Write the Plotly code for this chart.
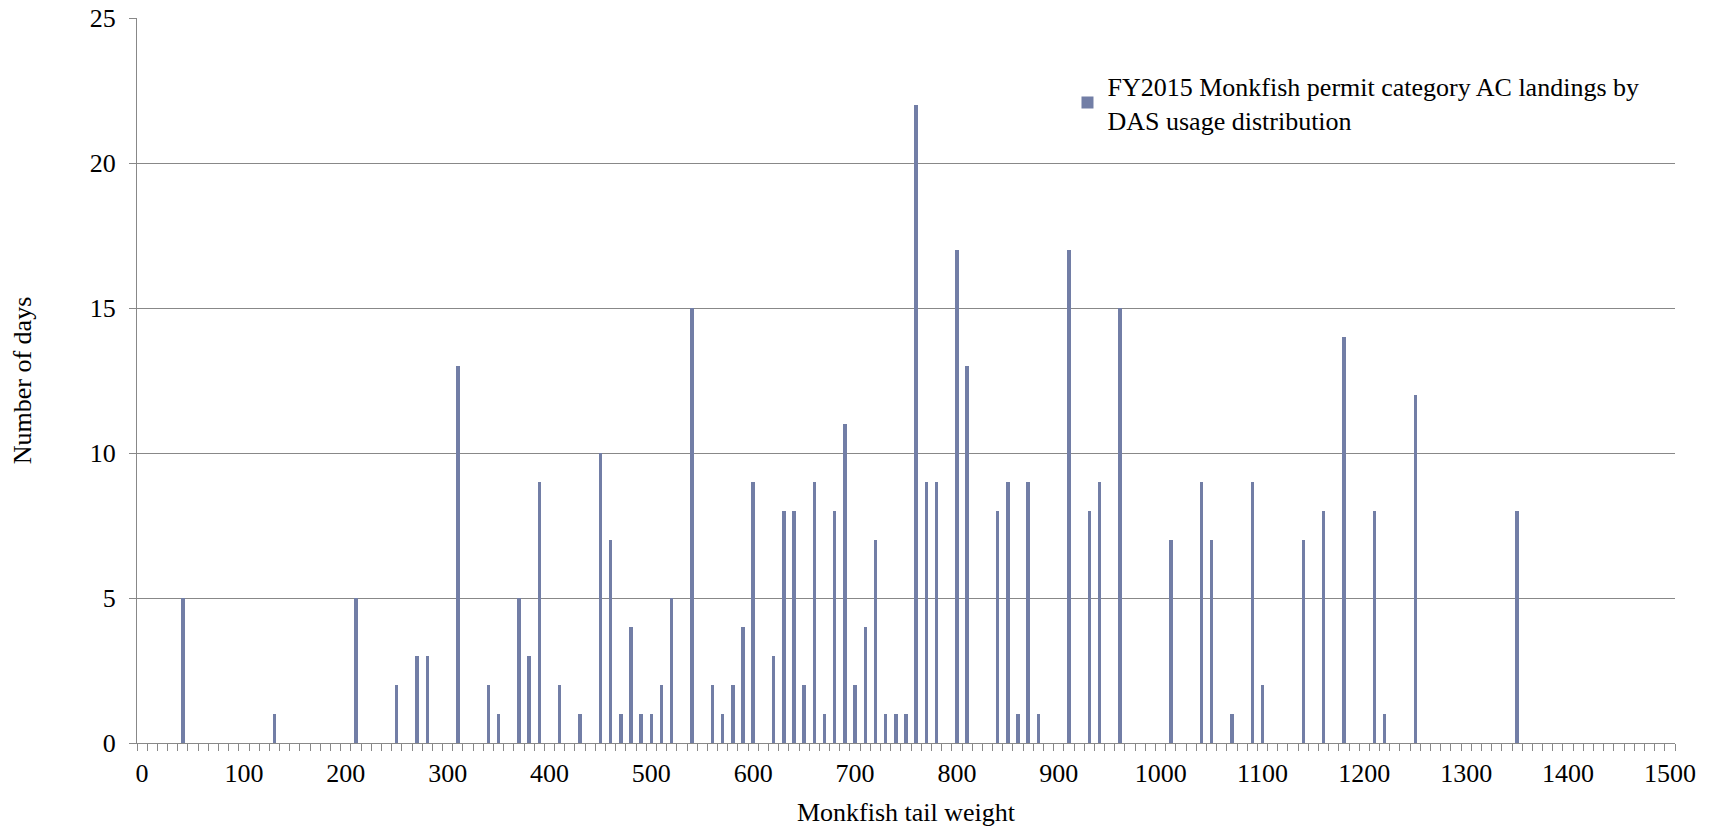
import plotly.graph_objects as go

weights = [40, 130, 210, 250, 270, 280, 310, 340, 350, 370, 380, 390, 410, 430,
           450, 460, 470, 480, 490, 500, 510, 520, 540, 560, 570, 580, 590, 600,
           620, 630, 640, 650, 660, 670, 680, 690, 700, 710, 720, 730, 740, 750,
           760, 770, 780, 800, 810, 840, 850, 860, 870, 880, 910, 930, 940, 960,
           1010, 1040, 1050, 1070, 1090, 1100, 1140, 1160, 1180, 1210, 1220, 1250,
           1350]
days = [5, 1, 5, 2, 3, 3, 13, 2, 1, 5, 3, 9, 2, 1,
        10, 7, 1, 4, 1, 1, 2, 5, 15, 2, 1, 2, 4, 9,
        3, 8, 8, 2, 9, 1, 8, 11, 2, 4, 7, 1, 1, 1,
        22, 9, 9, 17, 13, 8, 9, 1, 9, 1, 17, 8, 9, 15,
        7, 9, 7, 1, 9, 2, 7, 8, 14, 8, 1, 12,
        8]
x_tick_labels = list(range(0, 1501, 100))
y_ticks = [0, 5, 10, 15, 20, 25]

series_name = "FY2015 Monkfish permit category AC landings by<br>DAS usage distribution"

FONT = "Liberation Serif"
GRAY = "#888888"
BAR = "#727EA6"

fig = go.Figure()
fig.add_trace(go.Bar(
    x=weights, y=days, name=series_name, width=3.4,
    marker=dict(color=BAR, line=dict(width=0)),
    showlegend=True,
))

fig.update_layout(
    width=1715, height=827,
    margin=dict(l=137, r=40, t=18, b=84),
    paper_bgcolor="white", plot_bgcolor="white",
    font=dict(family=FONT, color="black", size=26),
    showlegend=True,
    legend=dict(x=0.605, y=0.939, xanchor="left", yanchor="top",
                font=dict(family=FONT, size=26, color="black"),
                bgcolor="rgba(0,0,0,0)", itemwidth=30, tracegroupgap=0),
    bargap=0,
)
fig.update_xaxes(
    range=[-5, 1505], tickmode="array", tickvals=x_tick_labels,
    ticktext=[str(v) for v in x_tick_labels], ticks="",
    showgrid=False, zeroline=False,
    showline=True, linecolor=GRAY, linewidth=1.3,
    tickfont=dict(family=FONT, size=26), ticklabelstandoff=7,
    minor=dict(ticks="outside", tick0=-5, dtick=10, ticklen=7,
               tickcolor=GRAY, tickwidth=1.3, showgrid=False),
    title=dict(text="Monkfish tail weight", font=dict(family=FONT, size=26), standoff=26),
    automargin=False, ticklabeloverflow="allow",
)
fig.update_yaxes(
    range=[0, 25], tickmode="array", tickvals=y_ticks,
    showgrid=True, gridcolor=GRAY, gridwidth=1.3,
    zeroline=False, showline=True, linecolor=GRAY, linewidth=1.3,
    ticks="outside", ticklen=7, tickcolor=GRAY, tickwidth=1.3,
    tickfont=dict(family=FONT, size=26), ticklabelstandoff=8,
    title=dict(text="Number of days", font=dict(family=FONT, size=26), standoff=50),
    automargin=False, ticklabeloverflow="allow",
)

fig.write_html("out.html", config={"displayModeBar": False},
               post_script="document.body.style.margin='0';")
